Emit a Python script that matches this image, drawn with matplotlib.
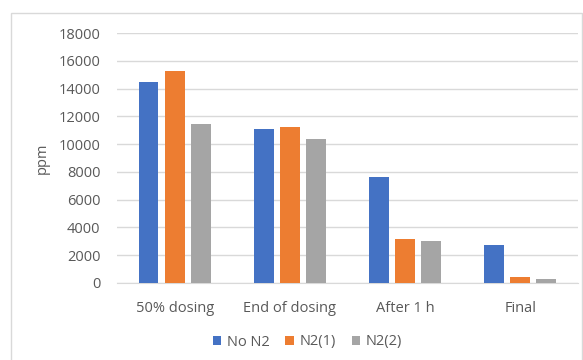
import matplotlib.pyplot as plt
import numpy as np
from matplotlib.patches import Rectangle

# Concentration readings per stage for each nitrogen setting
stages = ['50% dosing', 'End of dosing', 'After 1 h', 'Final']
no_n2 = [14500, 11100, 7600, 2700]
n2_1 = [15300, 11250, 3150, 450]
n2_2 = [11450, 10400, 3050, 300]
series_names = ['No N2', 'N2(1)', 'N2(2)']

colors = ['#4472C4', '#ED7D31', '#A5A5A5']
text_color = '#595959'

plt.rcParams['font.family'] = ['Open Sans', 'DejaVu Sans']

fig = plt.figure(figsize=(5.83, 3.6), dpi=100)
ax = fig.add_axes([0.2007, 0.2139, 0.7907, 0.6944])

# Light border round the whole chart area
fig.patches.append(Rectangle((11 / 583, -0.01), 571 / 583, 1 - 13 / 360 + 0.01,
                             transform=fig.transFigure, fill=False,
                             edgecolor='#d9d9d9', linewidth=1.0))

x = np.arange(len(stages))
width = 0.172
step = 0.226
for i, (values, name) in enumerate(zip([no_n2, n2_1, n2_2], series_names)):
    ax.bar(x + (i - 1) * step, values, width=width, color=colors[i], label=name, zorder=3)

ax.set_xlim(-0.5, len(stages) - 0.5)
ax.set_ylim(0, 18000)
ax.set_yticks(np.arange(0, 18001, 2000))
ax.set_xticks(x)
ax.set_xticklabels(stages)
ax.grid(axis='y', color='#d9d9d9', linewidth=1.0, zorder=0)

for side in ['top', 'right', 'left']:
    ax.spines[side].set_visible(False)
ax.spines['bottom'].set_color('#d9d9d9')
ax.tick_params(axis='both', length=0, labelsize=10.5, colors=text_color)
ax.tick_params(axis='x', pad=13)
ax.tick_params(axis='y', pad=12)

ax.set_ylabel('ppm', fontsize=10.5, color=text_color, labelpad=6)

fig.legend(loc='center', bbox_to_anchor=(0.527, 0.05), ncol=3, frameon=False,
           fontsize=10.5, labelcolor=text_color, handlelength=0.6, handleheight=0.6,
           handletextpad=0.35, columnspacing=1.1)

fig.savefig('out.png', dpi=100)
